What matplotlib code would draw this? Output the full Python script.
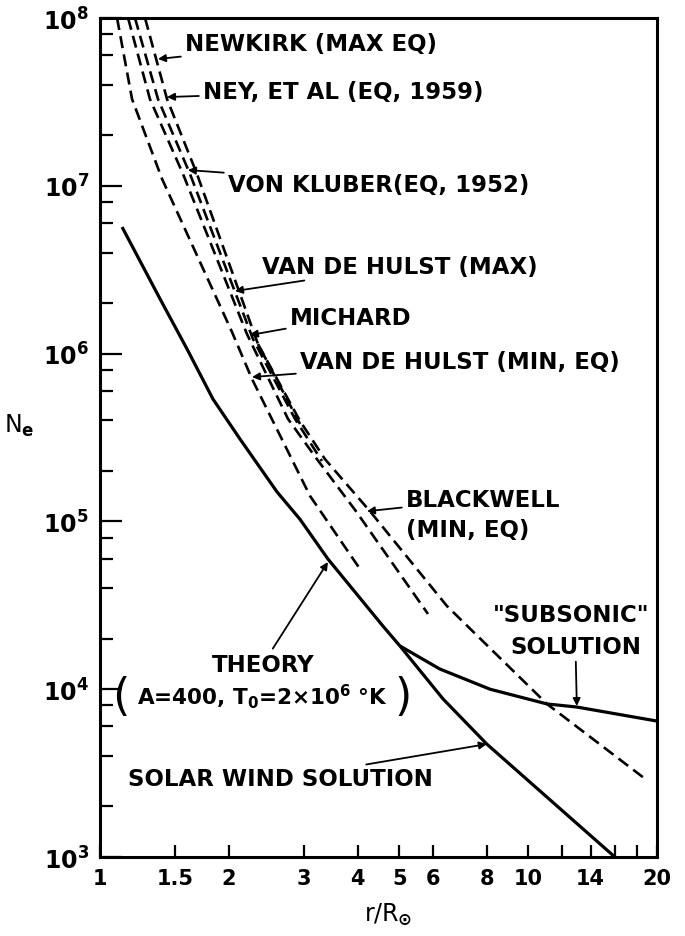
import numpy as np
import matplotlib
matplotlib.use('Agg')
import matplotlib.pyplot as plt
from matplotlib.ticker import LogLocator, NullFormatter, FixedLocator

plt.rcParams['font.family'] = ['DejaVu Sans']
plt.rcParams['font.weight'] = 'bold'
plt.rcParams['mathtext.default'] = 'bf'

# theory curve (solid), common part up to the critical point
theory_r  = [1.126, 1.381, 1.597, 1.836, 2.123, 2.591, 2.932, 3.408, 4.58, 5.02]
theory_ne = [5.68e6, 2.12e6, 1.065e6, 5.36e5, 3.10e5, 1.50e5, 1.03e5, 5.97e4, 2.38e4, 1.81e4]

# solar wind branch
wind_r  = [5.02, 6.33, 8.01, 15.95]
wind_ne = [1.81e4, 8.75e3, 4.71e3, 1.0e3]

# "subsonic" branch
sub_r  = [5.02, 6.22, 8.15, 11.07, 13.0, 20.0]
sub_ne = [1.81e4, 1.32e4, 1.0e4, 8.17e3, 7.83e3, 6.46e3]

# observed densities (dashed)
vdh_min_r  = [1.096, 1.188, 1.396, 2.034, 2.265, 3.094, 4.05]
vdh_min_ne = [1.0e8, 3.29e7, 1.10e7, 1.345e6, 7.06e5, 1.42e5, 5.2e4]

michard_r  = [1.163, 1.308, 1.563, 2.204, 2.749, 3.212, 3.963, 5.836]
michard_ne = [1.0e8, 3.29e7, 1.175e7, 1.309e6, 4.08e5, 2.35e5, 1.15e5, 2.81e4]

kluber_r  = [1.207, 1.366, 1.623, 2.277, 2.855, 3.300]
kluber_ne = [1.0e8, 3.29e7, 1.175e7, 1.222e6, 4.08e5, 2.29e5]

ney_r  = [1.274, 1.434, 1.685, 2.339, 2.932]
ney_ne = [1.0e8, 3.29e7, 1.175e7, 1.14e6, 3.81e5]

blackwell_r  = [2.339, 2.932, 3.354, 4.272, 6.465, 11.07, 19.05]
blackwell_ne = [1.14e6, 3.97e5, 2.35e5, 1.15e5, 3.13e4, 8.17e3, 2.84e3]

xticks = [1, 1.5, 2, 3, 4, 5, 6, 8, 10, 12, 14, 16, 18, 20]
xticklabels = ['1', '1.5', '2', '3', '4', '5', '6', '8', '10', '', '14', '', '', '20']
yticks = [1e3, 1e4, 1e5, 1e6, 1e7, 1e8]
yticklabels = [r'$10^{%d}$' % i for i in range(3, 9)]

fig = plt.figure(figsize=(6.85, 9.37), dpi=100)
ax = fig.add_axes([0.146, 0.0843, 0.813, 0.8954])

solid = dict(color='k', lw=2.3, solid_capstyle='butt')
dash = dict(color='k', lw=1.9, linestyle=(0, (4.6, 2.4)))

ax.plot(theory_r, theory_ne, **solid)
ax.plot(wind_r, wind_ne, **solid)
ax.plot(sub_r, sub_ne, **solid)
for rr, nn in [(vdh_min_r, vdh_min_ne), (michard_r, michard_ne), (kluber_r, kluber_ne),
               (ney_r, ney_ne), (blackwell_r, blackwell_ne)]:
    ax.plot(rr, nn, **dash)

ax.set_xscale('log')
ax.set_yscale('log')
ax.set_xlim(1, 20)
ax.set_ylim(1e3, 1e8)

ax.xaxis.set_major_locator(FixedLocator(xticks))
ax.set_xticklabels(xticklabels)
ax.xaxis.set_minor_locator(FixedLocator([]))
ax.set_yticks(yticks)
ax.set_yticklabels(yticklabels)
ax.yaxis.set_minor_locator(LogLocator(base=10, subs=(2, 4, 6, 8)))
ax.yaxis.set_minor_formatter(NullFormatter())

ax.tick_params(axis='x', which='major', direction='in', length=8.5, width=1.6,
               labelsize=15, pad=8)
ax.tick_params(axis='y', which='major', direction='in', length=16, width=1.6,
               labelsize=17, pad=8)
ax.tick_params(axis='y', which='minor', direction='in', length=9, width=1.6)
for s in ax.spines.values():
    s.set_linewidth(2.2)

ax.set_xlabel(r'r/R$_{\odot}$', fontsize=17, labelpad=6)
ax.xaxis.set_label_coords(0.517, -0.052)
ax.set_ylabel(r'N$_{e}$', fontsize=17, rotation=0)
ax.yaxis.set_label_coords(-0.145, 0.5)

arrow = dict(arrowstyle='-|>', color='k', lw=1.3, mutation_scale=11,
             shrinkA=1, shrinkB=0)
fs = 16.5

# labels with arrows: text, text pos (axes fraction), tip (data)
labels = [
    ('NEWKIRK (MAX EQ)', (0.1526, 0.9702), (1.366, 5.70e7)),
    ('NEY, ET AL (EQ, 1959)', (0.1849, 0.9130), (1.434, 3.38e7)),
    ('VON KLUBER(EQ, 1952)', (0.2298, 0.8021), (1.605, 1.242e7)),
    ('VAN DE HULST (MAX)', (0.2908, 0.7044), (2.067, 2.36e6)),
    ('MICHARD', (0.3411, 0.6436), (2.240, 1.29e6)),
    ('VAN DE HULST (MIN, EQ)', (0.3591, 0.5912), (2.265, 7.25e5)),
    ('BLACKWELL', (0.5494, 0.4267), (4.204, 1.15e5)),
    ('SOLAR WIND SOLUTION', (0.0503, 0.0930), (8.01, 4.71e3)),
]
for txt, pos, tip in labels:
    ax.annotate(txt, xy=tip, xycoords='data', xytext=pos, textcoords='axes fraction',
                ha='left', va='center', fontsize=fs, arrowprops=arrow)

ax.text(0.5494, 0.3909, '(MIN, EQ)', transform=ax.transAxes, ha='left',
        va='center', fontsize=fs)
ax.text(0.7056, 0.2896, '"SUBSONIC"', transform=ax.transAxes, ha='left',
        va='center', fontsize=fs)
ax.annotate('SOLUTION', xy=(13.0, 7.94e3), xycoords='data', xytext=(0.7361, 0.2515),
            textcoords='axes fraction', ha='left', va='center', fontsize=fs,
            arrowprops=arrow)
ax.annotate('THEORY', xy=(3.408, 5.73e4), xycoords='data', xytext=(0.2926, 0.2300),
            textcoords='axes fraction', ha='center', va='center', fontsize=fs,
            arrowprops=arrow)
ax.text(0.0664, 0.1919, r'A=400, T$_{0}$=2$\times$10$^{6}$ °K', transform=ax.transAxes,
        ha='left', va='center', fontsize=15.5)
ax.text(0.038, 0.1919, '(', transform=ax.transAxes, ha='center', va='center',
        fontsize=32, fontweight='normal')
ax.text(0.545, 0.1919, ')', transform=ax.transAxes, ha='center', va='center',
        fontsize=32, fontweight='normal')

fig.savefig('out.png', dpi=100)
